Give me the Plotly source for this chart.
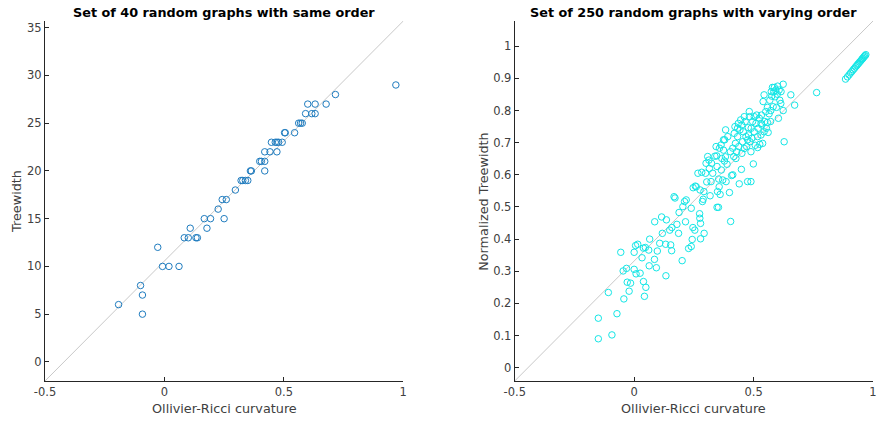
import plotly.graph_objects as go

# ---------------- data: left panel (same order) ----------------
left_x = [-0.192, -0.100, -0.092, -0.092, -0.028, -0.008, 0.019, 0.061, 0.083, 0.100,
          0.132, 0.138, 0.108, 0.167, 0.193, 0.178, 0.225, 0.242, 0.259, 0.250,
          0.297, 0.321, 0.328, 0.339, 0.349, 0.360, 0.364, 0.420, 0.399, 0.406,
          0.420, 0.420, 0.442, 0.471, 0.448, 0.464, 0.471, 0.478, 0.493, 0.503,
          0.506, 0.545, 0.562, 0.570, 0.577, 0.591, 0.617, 0.631, 0.600, 0.631,
          0.677, 0.716, 0.969]
left_y = [6, 8, 7, 5, 12, 10, 10, 10, 13, 13,
          13, 13, 14, 15, 15, 14, 16, 17, 17, 15,
          18, 19, 19, 19, 19, 20, 20, 20, 21, 21,
          21, 22, 22, 22, 23, 23, 23, 23, 23, 24,
          24, 24, 25, 25, 25, 26, 26, 26, 27, 27,
          27, 28, 29]

# ---------------- data: right panel (varying order) ----------------
right_x = [-0.150, -0.150, -0.093, -0.072, -0.108, -0.056, -0.043, -0.046, -0.032, -0.029,
           -0.015, -0.021, 0.000, 0.006, 0.015, 0.000, 0.008, 0.025, 0.033, 0.039,
           0.047, 0.039, 0.049, 0.043, 0.061, 0.065, 0.063, 0.085, 0.093, 0.097,
           0.086, 0.115, 0.135, 0.118, 0.107, 0.132, 0.133, 0.149, 0.158, 0.153,
           0.157, 0.167, 0.171, 0.179, 0.186, 0.188, 0.201, 0.204, 0.211, 0.218,
           0.215, 0.239, 0.228, 0.239, 0.243, 0.246, 0.254, 0.247, 0.256, 0.267,
           0.274, 0.275, 0.278, 0.278, 0.276, 0.283, 0.286, 0.293, 0.289, 0.292,
           0.301, 0.308, 0.313, 0.304, 0.315, 0.322, 0.318, 0.329, 0.338, 0.343,
           0.347, 0.349, 0.347, 0.353, 0.354, 0.356, 0.360, 0.364, 0.365, 0.367,
           0.371, 0.374, 0.378, 0.379, 0.383, 0.382, 0.385, 0.389, 0.399, 0.404,
           0.408, 0.413, 0.413, 0.419, 0.422, 0.424, 0.426, 0.429, 0.433, 0.436,
           0.438, 0.440, 0.443, 0.446, 0.449, 0.451, 0.454, 0.457, 0.461, 0.465,
           0.468, 0.471, 0.475, 0.478, 0.479, 0.482, 0.483, 0.485, 0.489, 0.490,
           0.493, 0.496, 0.499, 0.503, 0.507, 0.510, 0.513, 0.517, 0.519, 0.524,
           0.526, 0.531, 0.533, 0.535, 0.538, 0.540, 0.544, 0.547, 0.551, 0.554,
           0.558, 0.561, 0.565, 0.568, 0.571, 0.574, 0.576, 0.579, 0.582, 0.585,
           0.587, 0.590, 0.593, 0.596, 0.599, 0.601, 0.604, 0.607, 0.610, 0.614,
           0.615, 0.624, 0.628, 0.624, 0.656, 0.672, 0.764,
           0.392, 0.403, 0.417, 0.433, 0.451, 0.461, 0.475, 0.489, 0.503, 0.517,
           0.531, 0.544, 0.558, 0.572, 0.374, 0.357, 0.346, 0.324, 0.299, 0.260,
           0.885, 0.893, 0.900, 0.906, 0.912, 0.917, 0.922, 0.927, 0.932, 0.936,
           0.940, 0.944, 0.948, 0.952, 0.955, 0.958, 0.961, 0.964, 0.967, 0.970]
right_y = [0.154, 0.090, 0.102, 0.168, 0.234, 0.359, 0.214, 0.301, 0.309, 0.266,
           0.263, 0.238, 0.359, 0.380, 0.384, 0.306, 0.292, 0.294, 0.342, 0.372,
           0.374, 0.268, 0.250, 0.222, 0.366, 0.400, 0.317, 0.337, 0.311, 0.363,
           0.454, 0.469, 0.460, 0.418, 0.387, 0.384, 0.286, 0.428, 0.436, 0.382,
           0.364, 0.532, 0.528, 0.446, 0.418, 0.483, 0.333, 0.501, 0.517, 0.522,
           0.454, 0.496, 0.371, 0.377, 0.399, 0.436, 0.428, 0.560, 0.565, 0.605,
           0.479, 0.465, 0.449, 0.401, 0.553, 0.608, 0.517, 0.418, 0.524, 0.548,
           0.636, 0.657, 0.646, 0.578, 0.620, 0.579, 0.535, 0.605, 0.658, 0.688,
           0.626, 0.548, 0.499, 0.499, 0.587, 0.563, 0.539, 0.693, 0.615, 0.651,
           0.584, 0.677, 0.643, 0.709, 0.740, 0.656, 0.579, 0.633, 0.545, 0.455,
           0.598, 0.600, 0.683, 0.729, 0.750, 0.698, 0.651, 0.672, 0.719, 0.760,
           0.688, 0.572, 0.740, 0.771, 0.617, 0.667, 0.703, 0.734, 0.682, 0.766,
           0.719, 0.688, 0.579, 0.747, 0.724, 0.797, 0.781, 0.703, 0.579, 0.745,
           0.714, 0.766, 0.634, 0.734, 0.692, 0.760, 0.786, 0.719, 0.745, 0.776,
           0.695, 0.724, 0.786, 0.755, 0.698, 0.828, 0.849, 0.766, 0.797, 0.745,
           0.810, 0.732, 0.790, 0.832, 0.766, 0.859, 0.845, 0.872, 0.812, 0.858,
           0.872, 0.843, 0.864, 0.810, 0.851, 0.876, 0.776, 0.864, 0.832, 0.822,
           0.859, 0.882, 0.703, 0.800, 0.849, 0.817, 0.856,
           0.719, 0.672, 0.657, 0.745, 0.755, 0.781, 0.709, 0.672, 0.781, 0.685,
           0.760, 0.734, 0.763, 0.800, 0.709, 0.683, 0.659, 0.636, 0.605, 0.563,
           0.898, 0.905, 0.911, 0.917, 0.922, 0.927, 0.931, 0.936, 0.940, 0.944,
           0.947, 0.951, 0.954, 0.958, 0.961, 0.963, 0.966, 0.969, 0.971, 0.974]

# axis limits (diagonal reference lines run corner to corner)
x_range = [-0.5, 1.0]
left_y_range = [-2.0, 35.7]
right_y_range = [-0.0414, 1.0787]

left_yticks = [0, 5, 10, 15, 20, 25, 30, 35]
right_yticks = [0, 0.1, 0.2, 0.3, 0.4, 0.5, 0.6, 0.7, 0.8, 0.9, 1]
x_ticks = [-0.5, 0, 0.5, 1]
x_ticktext = ["-0.5", "0", "0.5", "1"]

AX = "#262626"
FONT = "DejaVu Sans"

fig = go.Figure()

fig.add_trace(go.Scatter(x=x_range, y=left_y_range, mode="lines",
                         line=dict(color="#c8c8c8", width=1),
                         xaxis="x", yaxis="y", hoverinfo="skip", showlegend=False))
fig.add_trace(go.Scatter(x=left_x, y=left_y, mode="markers",
                         marker=dict(symbol="circle-open", size=6.5,
                                     color="#1f7cbf", line=dict(width=1, color="#1f7cbf")),
                         xaxis="x", yaxis="y", showlegend=False))

fig.add_trace(go.Scatter(x=x_range, y=right_y_range, mode="lines",
                         line=dict(color="#c8c8c8", width=1),
                         xaxis="x2", yaxis="y2", hoverinfo="skip", showlegend=False))
fig.add_trace(go.Scatter(x=right_x, y=right_y, mode="markers",
                         marker=dict(symbol="circle-open", size=6.5,
                                     color="#14e6e6", line=dict(width=1, color="#14e6e6")),
                         xaxis="x2", yaxis="y2", showlegend=False, cliponaxis=False))

common_axis = dict(showline=True, linecolor=AX, linewidth=1, mirror=False,
                   showgrid=False, zeroline=False, ticks="inside", ticklen=4,
                   tickcolor=AX, tickwidth=1,
                   tickfont=dict(family=FONT, size=11.5, color="#404040"))

fig.update_layout(
    width=878, height=423,
    margin=dict(l=45, r=1, t=21, b=42),
    paper_bgcolor="white", plot_bgcolor="white",
    xaxis=dict(domain=[0, 0.4327], range=x_range, tickvals=x_ticks,
               ticktext=x_ticktext, anchor="y", **common_axis),
    yaxis=dict(domain=[0, 1], range=left_y_range, tickvals=left_yticks,
               anchor="x", **common_axis),
    xaxis2=dict(domain=[0.5673, 1], range=x_range, tickvals=x_ticks,
                ticktext=x_ticktext, anchor="y2", **common_axis),
    yaxis2=dict(domain=[0, 1], range=right_y_range, tickvals=right_yticks,
                anchor="x2", **common_axis),
)

title_font = dict(family=FONT, size=12.8, color="#000000")
label_font = dict(family=FONT, size=12.8, color="#404040")

annotations = [
    dict(text="<b>Set of 40 random graphs with same order</b>", xref="x domain", yref="paper",
         x=0.5, y=1.025, xanchor="center", yanchor="middle", showarrow=False, font=title_font),
    dict(text="<b>Set of 250 random graphs with varying order</b>", xref="x2 domain", yref="paper",
         x=0.5, y=1.025, xanchor="center", yanchor="middle", showarrow=False, font=title_font),
    dict(text="Ollivier-Ricci curvature", xref="x domain", yref="paper",
         x=0.5, y=-0.076, xanchor="center", yanchor="middle", showarrow=False, font=label_font),
    dict(text="Ollivier-Ricci curvature", xref="x2 domain", yref="paper",
         x=0.5, y=-0.076, xanchor="center", yanchor="middle", showarrow=False, font=label_font),
    dict(text="Treewidth", xref="x domain", yref="paper", textangle=-90,
         x=-0.081, y=0.5, xanchor="center", yanchor="middle", showarrow=False, font=label_font),
    dict(text="Normalized Treewidth", xref="x2 domain", yref="paper", textangle=-90,
         x=-0.089, y=0.5, xanchor="center", yanchor="middle", showarrow=False, font=label_font),
]
fig.update_layout(annotations=annotations)

fig.write_html("out.html",
               config={"displayModeBar": False},
               post_script="document.body.style.margin='0';document.body.style.overflow='hidden';")
